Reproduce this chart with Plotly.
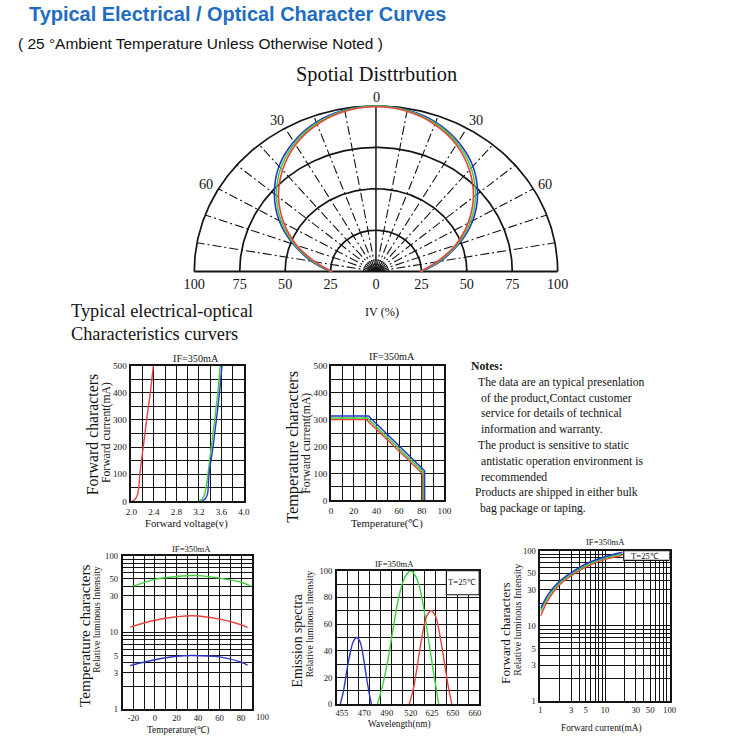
import numpy as np
import plotly.graph_objects as go

W = H = 750
RED, GREEN, BLUE = "#e8433f", "#3fd03f", "#2b35c8"
INK = "#141414"
SERIF = "Liberation Serif, Times New Roman, serif"
SANS = "Liberation Sans, Arial, sans-serif"

# ---------------- data ----------------
# Spatial distribution (angle from axis in degrees, relative intensity %)
pol_angles = [0, 10, 20, 30, 40, 50, 60, 70, 80, 90]
pol_blue = [100, 99, 96, 90.5, 83, 73, 61.5, 48.5, 36, 25]
pol_green = [100, 98.8, 95.3, 89.5, 81.5, 71.5, 60, 47.5, 35, 24.5]
pol_red = [99.5, 98.3, 94.5, 88.5, 80, 70, 58.5, 46.5, 34, 24]
pol_rings = [25, 50, 75, 100]
pol_spokes = [-80, -70, -60, -50, -40, -30, -20, -10, 10, 20, 30, 40, 50, 60, 70, 80]
pol_tickvals = [-100, -75, -50, -25, 0, 25, 50, 75, 100]
pol_ticktext = ["100", "75", "50", "25", "0", "25", "50", "75", "100"]

# Forward characters: voltage (V) vs current (mA)
iv_red_v = [2.00, 2.05, 2.10, 2.13, 2.15, 2.21, 2.27, 2.335, 2.39]
iv_red_i = [0, 5, 20, 50, 100, 200, 300, 400, 500]
iv_green_v = [3.20, 3.26, 3.30, 3.36, 3.42, 3.48, 3.535, 3.58]
iv_green_i = [0, 10, 25, 100, 200, 300, 400, 500]
iv_blue_v = [3.25, 3.31, 3.35, 3.38, 3.45, 3.51, 3.565, 3.61]
iv_blue_i = [0, 10, 25, 100, 200, 300, 400, 500]

# Temperature characters: derating (temperature C vs current mA)
dr_red_t = [0, 31, 80.5, 80.5]
dr_red_i = [300, 300, 100, 0]
dr_green_t = [0, 32, 81.5, 81.5]
dr_green_i = [306, 306, 105, 0]
dr_blue_t = [0, 33, 82.5, 82.5]
dr_blue_i = [313, 313, 110, 0]

# Temperature characters: relative luminous intensity (log)
lt_green_t = [-20, 0, 20, 40, 60, 80, 89]
lt_green_v = [40, 49, 53.5, 55, 51, 45, 40]
lt_red_t = [-23, 0, 20, 35, 60, 80, 86]
lt_red_v = [11.7, 14.4, 16, 16.5, 14.9, 12.6, 11.6]
lt_blue_t = [-23, 0, 20, 35, 60, 80, 86]
lt_blue_v = [3.7, 4.4, 4.9, 5.0, 4.8, 4.1, 3.75]

# Emission spectra (position on the wavelength scale, relative intensity)
em_ticks_pos = [0.45, 2.5, 4.55, 6.75, 8.69, 10.6, 12.6]
em_ticks_txt = ["455", "470", "490", "520", "625", "650", "660"]
em_blue_x = [0.3, 0.6, 0.9, 1.2, 1.5, 1.8, 2.1, 2.4, 2.7, 2.95, 3.15]
em_blue_y = [0, 10, 25, 38, 47, 50, 47, 36, 20, 8, 0]
em_green_x = [3.7, 4.2, 4.7, 5.2, 5.7, 6.2, 6.75, 7.3, 7.8, 8.3, 8.8, 9.1, 9.3]
em_green_y = [0, 15, 35, 60, 82, 95, 100, 94, 78, 52, 25, 10, 0]
em_red_x = [6.6, 7.0, 7.4, 7.8, 8.2, 8.6, 9.0, 9.4, 9.8, 10.2, 10.5]
em_red_y = [0, 12, 32, 52, 66, 70, 66, 52, 32, 12, 0]

# Forward characters: forward current (mA) vs relative luminous intensity (log-log)
fc_i = [1, 1.35, 1.9, 3, 5.5, 10, 18.5]
fc_blue = [17, 27, 38, 51, 69, 83, 95]
fc_green = [15.5, 25, 36, 49, 66, 80, 91]
fc_red = [13.5, 23, 34, 46.5, 63, 76.5, 87]

log_grid = [1, 2, 3, 4, 5, 6, 7, 8, 9, 10, 20, 30, 40, 50, 60, 70, 80, 90, 100]
log_labels = {1: "1", 3: "3", 5: "5", 10: "10", 30: "30", 50: "50", 100: "100"}

# ---------------- helpers ----------------
# the page photograph is slightly scaled about its centre; place things in
# target-picture pixels and map them back to page pixels
SC, OFF = 0.983, 6.4
def P(p):
    return (p - OFF) / SC
FS = 1 / SC

def span(p0, p1, v0, v1, r0, r1):
    """pixel positions of range ends r0,r1 when v0->p0 and v1->p1"""
    k = (p1 - p0) / (v1 - v0)
    return p0 + (r0 - v0) * k, p0 + (r1 - v0) * k

def xdom(a, b):
    return [P(a) / W, P(b) / W]

def ydom(top, bottom):
    return [1 - P(bottom) / H, 1 - P(top) / H]

def font(size, fam=SERIF, color=INK):
    return dict(family=fam, size=round(size * FS, 2), color=color)

def gaxis(**kw):
    d = dict(showgrid=True, gridcolor=INK, gridwidth=1.25, showline=True, linecolor=INK,
             linewidth=1.7, mirror=True, ticks="", zeroline=False, fixedrange=True,
             tickfont=font(9), ticklabelstandoff=1)
    d.update(kw)
    return d

ann = []
def txt(x, y, s, size, fam=SERIF, xa="center", ya="middle", angle=0, color=INK):
    ann.append(dict(x=P(x) / W, y=1 - P(y) / H, xref="paper", yref="paper", text=s, showarrow=False,
                    xanchor=xa, yanchor=ya, textangle=angle, borderpad=0,
                    font=font(size, fam, color)))

fig = go.Figure()
def line(x, y, ax, color=INK, width=1.5, dash=None, shape="linear", fill=None):
    fig.add_trace(go.Scatter(x=x, y=y, xaxis="x" + ax, yaxis="y" + ax, mode="lines",
                             line=dict(color=color, width=width, dash=dash, shape=shape),
                             fill=fill, fillcolor=color if fill else None,
                             hoverinfo="skip", showlegend=False))

# ---------------- spatial distribution (cartesian projection) ----------------
th = np.radians(np.linspace(-90, 90, 181))
for r in pol_rings:
    line(r * np.sin(th), r * np.cos(th), "1", width=1.7)
for a in pol_spokes:
    t = np.radians(a)
    line([2 * np.sin(t), 100 * np.sin(t)], [2 * np.cos(t), 100 * np.cos(t)], "1",
         width=1.1, dash="9px,3px,2px,3px")
line([0, 0], [0, 100], "1", width=1.5)
line([-100, 100], [0, 0], "1", width=2)
for r in [4.5, 7]:
    line(r * np.sin(th), r * np.cos(th), "1", width=0.8)
line(2.6 * np.sin(th), 2.6 * np.cos(th), "1", width=1, fill="toself")

full_ang = [-a for a in pol_angles[::-1]] + pol_angles[1:]
for vals, col in [(pol_blue, BLUE), (pol_green, GREEN), (pol_red, RED)]:
    rr = vals[::-1] + vals[1:]
    tt = np.radians(full_ang)
    line(list(np.array(rr) * np.sin(tt)), list(np.array(rr) * np.cos(tt)), "1",
         color=col, width=1.6, shape="spline")

px0, px1 = span(193, 559, -100, 100, -101, 101)
py0, py1 = span(272, 107, 0, 100, -1.5, 101)
layout_axes = {}
layout_axes["xaxis"] = dict(domain=xdom(px0, px1), range=[-101, 101], showgrid=False, zeroline=False,
                            showline=False, ticks="", tickvals=pol_tickvals, ticktext=pol_ticktext,
                            tickfont=font(14), fixedrange=True, anchor="y", ticklabelstandoff=0)
layout_axes["yaxis"] = dict(domain=ydom(py1, py0), range=[-1.5, 101], showgrid=False, zeroline=False,
                            showline=False, showticklabels=False, fixedrange=True, anchor="x")

# ---------------- forward characters (IV) ----------------
for vx, iy, col in [(iv_red_v, iv_red_i, RED), (iv_green_v, iv_green_i, GREEN), (iv_blue_v, iv_blue_i, BLUE)]:
    line(vx, iy, "2", color=col, width=1.4, shape="spline")
xv = [round(2 + 0.2 * k, 1) for k in range(11)]
yv = list(range(0, 501, 50))
layout_axes["xaxis2"] = gaxis(domain=xdom(129.7, 243), range=[2, 4], anchor="y2", tickvals=xv,
                              ticktext=[f"{v:.1f}" if k % 2 == 0 else "" for k, v in enumerate(xv)])
layout_axes["yaxis2"] = gaxis(domain=ydom(365.7, 501), range=[0, 500], anchor="x2", tickvals=yv,
                              ticktext=[str(v) if v % 100 == 0 else "" for v in yv])

# ---------------- temperature characters (derating) ----------------
for tx, iy, col in [(dr_red_t, dr_red_i, RED), (dr_green_t, dr_green_i, GREEN), (dr_blue_t, dr_blue_i, BLUE)]:
    line(tx, iy, "3", color=col, width=1.5)
xt = list(range(0, 101, 10))
layout_axes["xaxis3"] = gaxis(domain=xdom(330.7, 445), range=[0, 100], anchor="y3", tickvals=xt,
                              ticktext=[str(v) if v % 20 == 0 else "" for v in xt])
layout_axes["yaxis3"] = gaxis(domain=ydom(365.7, 500), range=[0, 500], anchor="x3", tickvals=yv,
                              ticktext=[str(v) if v % 100 == 0 else "" for v in yv], ticklabelstandoff=0)

# ---------------- temperature vs relative luminous intensity ----------------
for tx, vy, col in [(lt_green_t, lt_green_v, GREEN), (lt_red_t, lt_red_v, RED), (lt_blue_t, lt_blue_v, BLUE)]:
    line(tx, vy, "4", color=col, width=1.4, shape="spline")
xt4 = list(range(-30, 91, 10))
small = font(8.5)
layout_axes["xaxis4"] = gaxis(domain=xdom(120.8, 251), range=[-30, 90], anchor="y4", tickvals=xt4,
                              ticktext=[str(v) if (v % 20 == 0 and v > -30) else "" for v in xt4],
                              tickfont=small, ticklabelstandoff=0)
layout_axes["yaxis4"] = gaxis(domain=ydom(555, 708), type="log", range=[0, 2], anchor="x4",
                              tickvals=log_grid, ticktext=[log_labels.get(v, "") for v in log_grid],
                              tickfont=small)
# "100" label printed beyond the right border
x100 = span(120.8, 251, -30, 90, 100, 100)[0]
txt(x100, 716, "100", 8.5)

# ---------------- emission spectra ----------------
for ex, ey, col in [(em_blue_x, em_blue_y, BLUE), (em_green_x, em_green_y, GREEN), (em_red_x, em_red_y, RED)]:
    line(ex, ey, "5", color=col, width=1.4, shape="spline")
yt5 = list(range(0, 101, 10))
layout_axes["xaxis5"] = gaxis(domain=xdom(336.7, 480), range=[0, 13], anchor="y5", showgrid=False,
                              tickvals=em_ticks_pos, ticktext=em_ticks_txt, tickfont=small,
                              ticklabelstandoff=0,
                              minor=dict(tickvals=list(range(0, 14)), showgrid=True, gridcolor=INK,
                                         gridwidth=1.25, ticks=""))
layout_axes["yaxis5"] = gaxis(domain=ydom(570, 703), range=[0, 100], anchor="x5", tickvals=yt5,
                              ticktext=[str(v) if v % 20 == 0 else "" for v in yt5], tickfont=small)

# ---------------- forward current vs relative luminous intensity ----------------
for vals, col in [(fc_red, RED), (fc_green, GREEN), (fc_blue, BLUE)]:
    line(fc_i, vals, "6", color=col, width=1.5, shape="spline")
layout_axes["xaxis6"] = gaxis(domain=xdom(541.7, 671.7), type="log", range=[0, 2], anchor="y6",
                              tickvals=log_grid, ticktext=[log_labels.get(v, "") for v in log_grid],
                              tickfont=small, ticklabelstandoff=0)
layout_axes["yaxis6"] = gaxis(domain=ydom(550, 700), type="log", range=[0, 2], anchor="x6",
                              tickvals=log_grid, ticktext=[log_labels.get(v, "") for v in log_grid],
                              tickfont=small)

# ---------------- boxes ----------------
shapes = [
    dict(type="rect", xref="x5", yref="y5", x0=10, x1=13, y0=82, y1=100,
         fillcolor="white", line=dict(color=INK, width=1.2), layer="above"),
    dict(type="rect", xref="x6", yref="y6", x0=19.5, x1=100, y0=74, y1=100,
         fillcolor="white", line=dict(color=INK, width=1.2), layer="above"),
]

# ---------------- texts ----------------
txt(26, 15, "<b>Typical Electrical / Optical Character Curves</b>", 19.6, SANS, xa="left", color="#1f6cc3")
txt(14, 45, "( 25 °Ambient Temperature Unless Otherwise Noted )", 15.2, SANS, xa="left", color="#111")
txt(377, 76, "Spotial Disttrbution", 20)
txt(377, 98, "0", 14)
txt(276, 121, "30", 14); txt(477, 121, "30", 14)
txt(205, 185, "60", 14); txt(546, 185, "60", 14)
txt(382, 312, "IV (%)", 12)
txt(68, 311, "Typical electrical-optical", 18, xa="left")
txt(68, 334, "Characteristics curvers", 18, xa="left")

# subplot labels
txt(195, 359, "IF=350mA", 10)
txt(90, 435, "Forward characters", 15.5, angle=-90)
txt(104, 432, "Forward current(mA)", 11.5, angle=-90)
txt(185, 523, "Forward voltage(v)", 10.5)

txt(392, 357, "IF=350mA", 10)
txt(292, 447, "Temperature characters", 16, angle=-90)
txt(306, 443, "Forward current(mA)", 11.5, angle=-90)
txt(387, 523, "Temperature(℃)", 10.5)

txt(190, 548, "IF=350mA", 8.5)
txt(83, 635, "Temperature characters", 15, angle=-90)
txt(95, 618, "Relative luminous Intensity", 9.5, angle=-90)
txt(177, 729, "Temperature(℃)", 9.2)

txt(395, 563, "IF=350mA", 8.5)
txt(297, 640, "Emission spectra", 13.5, angle=-90)
txt(309, 623, "Relative luminous Intensity", 9.5, angle=-90)
txt(400, 723, "Wavelength(nm)", 9.2)
txt(463, 581, "T=25℃", 8.5)

txt(607, 541, "IF=350mA", 8.5)
txt(507, 632, "Forward characters", 13, angle=-90)
txt(519, 618, "Relative luminous Intensity", 10, angle=-90)
txt(603, 727, "Forward current(mA)", 9.2)
txt(647, 555, "T=25℃", 8.5)

# notes
notes = [
    (471, 367, "<b>Notes:</b>"),
    (478, 382, "The data are an typical presenlation"),
    (481, 398, "of the product,Contact customer"),
    (481, 413, "service for details of technical"),
    (481, 429, "information and warranty."),
    (478, 445, "The product is sensitive to static"),
    (481, 461, "antistatic operation environment is"),
    (481, 477, "recommended"),
    (475, 492, "Products are shipped in either bulk"),
    (480, 508, "bag package or taping."),
]
for x, y, s in notes:
    txt(x, y, s, 11.5, xa="left")

fig.update_layout(width=W, height=H, margin=dict(l=0, r=0, t=0, b=0),
                  paper_bgcolor="white", plot_bgcolor="white", showlegend=False,
                  annotations=ann, shapes=shapes, **layout_axes)
page_fix = ("var h=document.documentElement,b=document.body;"
            "h.style.margin='0';h.style.padding='0';h.style.overflow='hidden';"
            "b.style.margin='0';b.style.padding='0';b.style.overflow='hidden';")
fig.write_html("out.html", config={"displayModeBar": False}, post_script=page_fix)
